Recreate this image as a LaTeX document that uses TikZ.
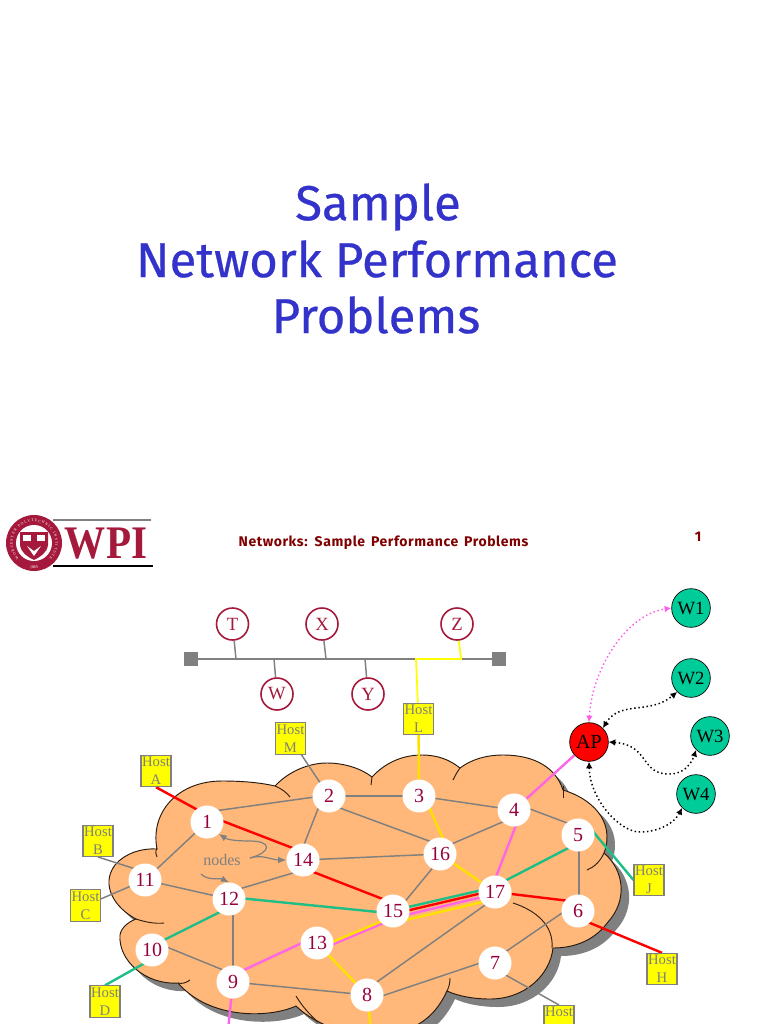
\documentclass[tikz,border=0pt]{standalone}
\usepackage{fontspec}
\setmainfont{Liberation Serif}
\newfontfamily\titlefont[FakeBold=0.5]{Fira Sans}
\newfontfamily\headfont[LetterSpace=4,WordSpace=1.5]{Fira Sans}
\usetikzlibrary{arrows.meta,calc,decorations.text}
\definecolor{crim}{RGB}{165,25,60}
\definecolor{numc}{RGB}{150,0,60}
\definecolor{cloudc}{RGB}{255,184,122}
\definecolor{linec}{RGB}{128,128,128}
\definecolor{titlec}{RGB}{51,51,204}
\definecolor{headc}{RGB}{128,0,0}
\definecolor{grn}{RGB}{30,190,135}
\definecolor{wgrn}{RGB}{0,204,153}
\definecolor{pnk}{RGB}{255,102,230}
\definecolor{yel}{RGB}{255,225,0}
\definecolor{purey}{RGB}{255,255,0}
\pgfdeclarelayer{cloudlayer}
\pgfdeclarelayer{edgelayer}
\pgfsetlayers{cloudlayer,edgelayer,main}
\tikzset{
 rnode/.style={circle,fill=white,minimum size=24.75pt,inner sep=0pt,text=numc,font=\fontsize{15}{15}\selectfont},
 busnode/.style={circle,draw=crim,line width=1.2pt,fill=white,minimum size=24pt,inner sep=0pt,text=crim,font=\fontsize{14}{14}\selectfont},
 wnode/.style={circle,draw=black,line width=0.5pt,fill=wgrn,minimum size=29pt,inner sep=0pt,font=\fontsize{14}{14}\selectfont},
 apnode/.style={circle,draw=black,line width=0.5pt,fill=red,minimum size=29pt,inner sep=0pt,font=\fontsize{15}{15}\selectfont},
 hostbox/.style={rectangle,draw=linec,line width=0.8pt,fill=purey,minimum width=22.5pt,minimum height=23.5pt,inner sep=0pt,text=linec,align=center,font=\fontsize{11}{13.5}\selectfont},
 term/.style={rectangle,fill=linec,minimum size=10.5pt,inner sep=0pt},
 gline/.style={draw=linec,line width=1.1pt},
 rline/.style={draw=red,line width=1.8pt},
 gnline/.style={draw=grn,line width=1.8pt},
 pline/.style={draw=pnk,line width=1.8pt},
 yline/.style={draw=yel,line width=1.8pt},
 busy/.style={draw=purey,line width=1.3pt},
 tailc/.style={draw=black!75!brown,line width=0.7pt},
 dotarrow/.style={dotted,line width=1.1pt,{Latex[length=5pt,width=5pt]}-{Latex[length=5pt,width=5pt]}},
 noteline/.style={draw=linec,line width=0.9pt},
 titlet/.style={text=titlec,font=\titlefont\fontsize{36.8}{36.8}\selectfont},
 headt/.style={text=headc,font=\headfont\bfseries\fontsize{10.5}{10.5}\selectfont},
}
\newcommand{\cloudoutline}{
 (157,849) .. controls (150,812) and (178,781) .. (222,781)
 .. controls (245,781) and (262,783) .. (275,786)
 .. controls (288,772) and (308,763) .. (327,763)
 .. controls (345,763) and (362,769) .. (372,777)
 .. controls (385,763) and (402,755) .. (422,755)
 .. controls (438,755) and (450,760) .. (460,768)
 .. controls (472,759) and (487,755) .. (503,755)
 .. controls (535,755) and (556,768) .. (563,790)
 .. controls (590,798) and (616,820) .. (604,853)
 .. controls (624,870) and (628,900) .. (608,922)
 .. controls (595,940) and (575,948) .. (553,948)
 .. controls (550,975) and (525,999) .. (490,999)
 .. controls (473,999) and (458,996) .. (447,991)
 .. controls (437,1012) and (420,1035) .. (370,1035)
 .. controls (340,1035) and (310,1020) .. (296,1006)
 .. controls (270,1018) and (210,1020) .. (178,983)
 .. controls (145,985) and (118,960) .. (120,935)
 .. controls (121,928) and (128,922) .. (136,919)
 .. controls (115,908) and (100,885) .. (115,865)
 .. controls (125,853) and (142,848) .. (157,849) -- cycle}
\begin{document}
\begin{tikzpicture}[x=0.75pt,y=-0.75pt]
\useasboundingbox (0,0) rectangle (768,1024);
\clip (0,0) rectangle (768,1024);

% title
\node[titlet] (t1) at (378,207) {Sample};
\node[titlet] (t2) at (377,259) {Network Performance};
\node[titlet] (t3) at (376,315) {Problems};

% header
\node[headt] (head) at (383.5,542.5) {Networks: Sample Performance Problems};
\node[headt] (pageno) at (698,537) {1};

% logo
\draw[linec,line width=1pt] (53,520) -- (151,520);
\draw[black,line width=1.5pt] (53,566) -- (153,566);
\node[circle,fill=crim,minimum size=42pt,inner sep=0pt] (seal) at (34,543) {};
\fill[white] (seal) circle (13.5pt);
\path[decorate,decoration={text along path,text align={fit to path},text color=white,text={|\fontsize{2.8}{2.8}\selectfont|WORCESTER POLYTECHNIC INSTITUTE}}]
 (seal) ++(225:16pt) arc (225:-45:16pt);
\path[decorate,decoration={text along path,text align=center,text color=white,text={|\fontsize{3.2}{3.2}\selectfont|1865}}]
 (seal) ++(-120:19pt) arc (-120:-60:19pt);
\fill[crim] (20,532) -- (48,532) -- (48,545) .. controls (47,553) and (40,557) .. (34,560) .. controls (28,557) and (21,553) .. (20,545) -- cycle;
\fill[white] (23,535) rectangle (31,541);
\fill[white] (37,535) rectangle (45,541);
\fill[white] (27,546) -- (34,556) -- (41,546) -- (34,551) -- cycle;
\node[text=crim,font=\bfseries\fontsize{35}{35}\selectfont,inner sep=0pt,anchor=center] (wpi) at (106,544) {\scalebox{0.88}[1]{WPI}};

% bus
\node[term] (sqL) at (191,659) {};
\node[term] (sqR) at (499,659) {};
\node[busnode] (T) at (232.5,624) {T};
\node[busnode] (X) at (322,624) {X};
\node[busnode] (Z) at (457,624) {Z};
\node[busnode] (W) at (277,694) {W};
\node[busnode] (Y) at (368,694) {Y};
\coordinate (jT) at (236,659);
\coordinate (jX) at (326,659);
\coordinate (jW) at (274,659);
\coordinate (jY) at (365,659);
\coordinate (jZ) at (461,659);
\coordinate (jL) at (416,659);

% wireless
\node[wnode] (W1) at (691,608) {W1};
\node[wnode] (W2) at (691,678) {W2};
\node[wnode] (W3) at (710,736) {W3};
\node[wnode] (W4) at (696,794) {W4};
\node[apnode] (AP) at (589,742) {AP};

% network nodes
\node[rnode] (n1) at (207,822) {1};
\node[rnode] (n2) at (329,796) {2};
\node[rnode] (n3) at (419,796) {3};
\node[rnode] (n4) at (514,810) {4};
\node[rnode] (n5) at (578,835) {5};
\node[rnode] (n6) at (578,911) {6};
\node[rnode] (n7) at (495,963) {7};
\node[rnode] (n8) at (367,995) {8};
\node[rnode] (n9) at (233,982) {9};
\node[rnode] (n10) at (152,950) {10};
\node[rnode] (n11) at (145,880) {11};
\node[rnode] (n12) at (229,899) {12};
\node[rnode] (n13) at (317,943) {13};
\node[rnode] (n14) at (303,860) {14};
\node[rnode] (n15) at (393,911) {15};
\node[rnode] (n16) at (440,854) {16};
\node[rnode] (n17) at (495,892) {17};

% hosts
\node[hostbox] (hA) at (156,771) {Host\\A};
\node[hostbox] (hB) at (98,841) {Host\\B};
\node[hostbox] (hC) at (85.5,905.5) {Host\\C};
\node[hostbox] (hD) at (105,1001.5) {Host\\D};
\node[hostbox] (hM) at (290.5,738.5) {Host\\M};
\node[hostbox] (hL) at (418.5,719) {Host\\L};
\node[hostbox] (hJ) at (649,880) {Host\\J};
\node[hostbox] (hH) at (662,969) {Host\\H};
\node[hostbox] (hG) at (559,1021) {Host\\\phantom{G}};
\coordinate (bot9) at (228,1030);
\coordinate (bot8) at (371,1030);

\node[text=linec,font=\fontsize{12}{12}\selectfont,inner sep=0pt] (nodes) at (222,860) {nodes};
\coordinate (na) at (250,858);
\coordinate (nb) at (201,874);

\begin{pgfonlayer}{cloudlayer}
 \fill[white] (0,0) rectangle (768,1024);
 \begin{scope}[shift={(8,8)}]
  \fill[linec] \cloudoutline;
 \end{scope}
 \fill[cloudc,draw=black!80!brown,line width=0.7pt] \cloudoutline;
\end{pgfonlayer}

\begin{pgfonlayer}{edgelayer}
 % cloud inner tails
 \draw[tailc] (275,786) .. controls (282,789) and (286,792) .. (290,797);
 \draw[tailc] (372,777) -- (371,785);
 \draw[tailc] (460,768) .. controls (457,772) and (455,776) .. (453,780);
 \draw[tailc] (563,786) -- (563,798);
 \draw[tailc] (604,853) .. controls (600,862) and (594,867) .. (587,870);
 \draw[tailc] (552,948) .. controls (554,925) and (535,910) .. (513,903);
 \draw[tailc] (447,991) .. controls (449,987) and (450,983) .. (450,978);
 \draw[tailc] (296,996) .. controls (302,1006) and (310,1015) .. (318,1022);
 \draw[tailc] (178,983) .. controls (182,984) and (186,983) .. (190,980);
 \draw[tailc] (136,919) .. controls (145,922) and (155,924) .. (164,923);
 \draw[tailc] (157,848) .. controls (155,852) and (156,855) .. (157,857);

 % bus
 \draw[gline,line width=0.9pt] (sqL) -- (sqR);
 \draw[gline] (T) -- (jT);
 \draw[gline] (X) -- (jX);
 \draw[gline] (W) -- (jW);
 \draw[gline] (Y) -- (jY);
 \draw[busy] (Z) -- (jZ) -- (jL) -- (hL);

 % gray links: \a,\b with x/y offsets
 \foreach \a/\ax/\ay/\b/\bx/\by in {
   n1/0/-10/n2/0/-1, n2/0/0/n3/0/0, n2/-6/0/n14/-5/0, n2/0/8/n16/0/-9,
   n3/0/0/n4/0/0, n4/0/7/n16/0/-5, n4/0/-7/n5/0/-8, n1/0/0/n11/0/0,
   n11/0/0/n12/0/0, n12/0/-7/n14/0/10, n14/0/0/n16/0/0, n16/0/5/n15/0/5,
   n12/4/0/n9/0/0, n10/0/-9/n9/0/-8, n9/0/0/n8/0/0, n17/0/6/n8/0/-6,
   n8/0/6/n7/0/-5, n7/0/-4/n6/0/-9, n5/1/0/n6/1/0, hM/0/0/n2/0/0,
   hC/0/0/n11/0/0, n7/0/6/hG/0/-16, hB/0/16/n11/0/-8}
  \draw[gline] ([shift={(\ax,\ay)}]\a.center) -- ([shift={(\bx,\by)}]\b.center);

 % red
 \draw[rline] (hA.south) -- ([shift={(0,-7)}]n1.center) -- ([shift={(0,-8)}]n14.center);
 \draw[rline] ([shift={(0,8)}]n14.center) -- ([shift={(0,-8)}]n15.center);
 \draw[rline] (n17) -- ([shift={(0,-9)}]n6.center);
 \draw[rline] ([shift={(0,7)}]n6.center) -- (hH.north);
 % green
 \draw[gnline] (hD.north) -- ([shift={(0,9)}]n10.center);
 \draw[gnline] ([shift={(0,-4)}]n10.center) -- ([shift={(0,8.5)}]n12.center);
 \draw[gnline] ([shift={(0,-2)}]n12.center) -- ([shift={(0,2.5)}]n15.center);
 \draw[gnline] ([shift={(0,-6)}]n17.center) -- ([shift={(0,8)}]n5.center);
 \draw[gnline] ([shift={(10,-9.5)}]n5.center) -- (hJ.west);
 % magenta
 \draw[pline] (bot9) -- (n9);
 \draw[pline] ([shift={(0,-7)}]n9.center) -- ([shift={(0,-7)}]n13.center);
 \draw[pline] ([shift={(0,8)}]n13.center) -- ([shift={(0,8)}]n15.center);
 \draw[pline] ([shift={(-5,0)}]n17.center) -- ([shift={(8,0)}]n4.center);
 \draw[pline] (n4) -- (AP);
 % yellow
 \draw[yline] (bot8) -- (n8) -- (n13);
 \draw[yline] ([shift={(0,5.5)}]n13.center) -- ([shift={(0,5.5)}]n15.center);
 \draw[yline] (n17) -- (n16);
 \draw[yline] ([shift={(10,0)}]n16.center) -- ([shift={(5,0)}]n3.center);
 \draw[yline] (n3) -- (hL);
 % four lines 15-17
 \draw[gnline] ([shift={(0,-0.5)}]n15.center) -- ([shift={(0,-5)}]n17.center);
 \draw[rline] ([shift={(0,3)}]n15.center) -- ([shift={(0,-2)}]n17.center);
 \draw[pline] ([shift={(0,7)}]n15.center) -- ([shift={(0,2)}]n17.center);
 \draw[yline] ([shift={(0,12)}]n15.center) -- ([shift={(0,7)}]n17.center);
\end{pgfonlayer}

% annotation arrows
\draw[noteline,-{Latex[length=6pt,width=5pt]}] (na) .. controls (272,852) and (272,841) .. (250,841) .. controls (238,841) and (228,840) .. (n1.south east);
\draw[noteline,-{Latex[length=6pt,width=5pt]}] (na) .. controls (262,854) and (272,860) .. (n14.west);
\draw[noteline,-{Latex[length=6pt,width=5pt]}] (nb) .. controls (208,881) and (220,878) .. (n12.north);

% wireless arrows
\draw[dotarrow,pnk!90!magenta] (AP.north) .. controls (592,670) and (625,615) .. (W1.west);
\draw[dotarrow,black] (AP.north east) .. controls (620,700) and (650,715) .. (W2.south west);
\draw[dotarrow,black] (AP.east) .. controls (650,745) and (640,775) .. (670,774) .. controls (685,774) and (692,762) .. (W3.south west);
\draw[dotarrow,black] (AP.south) .. controls (590,800) and (620,832) .. (640,832) .. controls (660,832) and (675,822) .. (W4.south west);
\end{tikzpicture}
\end{document}
